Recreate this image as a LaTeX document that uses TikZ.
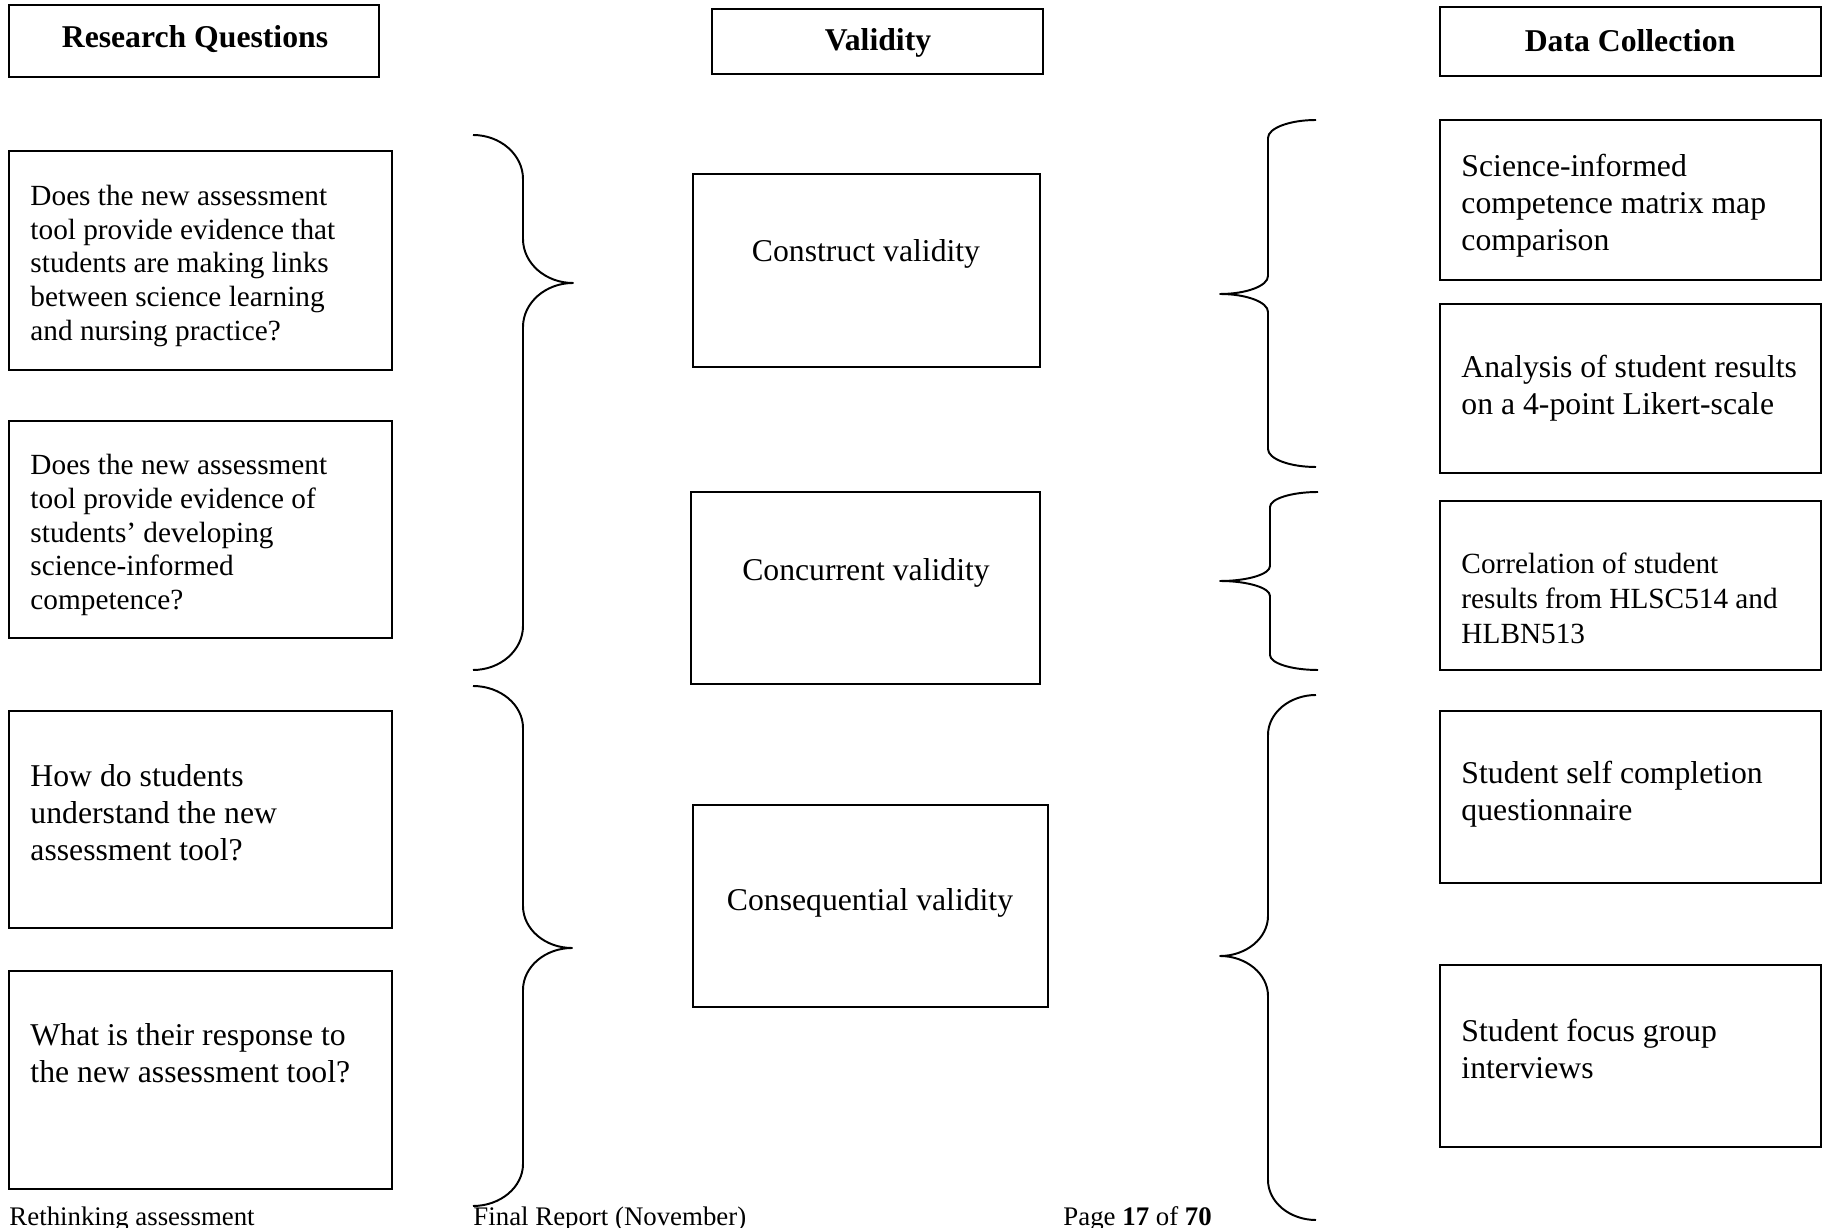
\documentclass[tikz,border=0pt]{standalone}
\usepackage{fontspec}
\setmainfont{Liberation Serif}
\usepackage{tikz}
\usetikzlibrary{fit}
\usetikzlibrary{positioning}

\begin{document}
\begin{tikzpicture}[x={(0.41pt,0pt)},y={(0pt,-0.41pt)},
		box/.style={draw,line width=0.8pt,inner sep=0pt},
		head/.style={inner sep=0pt,font=\fontsize{13}{15}\selectfont\bfseries},
		qtext/.style={anchor=west,align=left,inner sep=0pt,font=\fontsize{12}{13.9}\selectfont},
		qbig/.style={qtext,font=\fontsize{13}{15.2}\selectfont},
		vtext/.style={inner sep=0pt,font=\fontsize{13}{15}\selectfont},
		foot/.style={anchor=base west,inner sep=0pt,font=\fontsize{11}{13}\selectfont},
		brace/.style={line width=0.8pt,line join=round}]
		
		\useasboundingbox (0,0) rectangle (1822,1228);
		
		% column headings
		\node[box, fit={(9,5) (379,77)}] (rqhead) {};
		\node[head] (rqtitle) at (195,39) {Research Questions};
		\node[box, fit={(712,9) (1043,74)}] (valhead) {};
		\node[head] (valtitle) at (878,43) {Validity};
		\node[box, fit={(1440,7) (1821,76)}] (dchead) {};
		\node[head] (dctitle) at (1630,41) {Data Collection};
		
		% research questions
		\node[box, fit={(9,151) (392,370)}] (q1) {};
		\node[qtext] (q1text) at (30,266) {Does the new assessment\\tool provide evidence that\\students are making links\\between science learning\\and nursing practice?};
		\node[box, fit={(9,421) (392,638)}] (q2) {};
		\node[qtext] (q2text) at (30,535) {Does the new assessment\\tool provide evidence of\\students' developing\\science-informed\\competence?};
		\node[box, fit={(9,711) (392,928)}] (q3) {};
		\node[qbig] (q3text) at (30,813) {How do students\\understand the new\\assessment tool?};
		\node[box, fit={(9,971) (392,1189)}] (q4) {};
		\node[qbig] (q4text) at (30,1053) {What is their response to\\the new assessment tool?};
		
		% validity
		\node[box, fit={(693,174) (1040,367)}] (construct) {};
		\node[vtext] (constructtext) at (866,254) {Construct validity};
		\node[box, fit={(691,492) (1040,684)}] (concurrent) {};
		\node[vtext] (concurrenttext) at (866,573) {Concurrent validity};
		\node[box, fit={(693,805) (1048,1007)}] (consequential) {};
		\node[vtext] (consequentialtext) at (870,903) {Consequential validity};
		
		% data collection
		\node[box, fit={(1440,120) (1821,280)}] (d1) {};
		\node[qbig] (d1text) at (1461,206) {Science-informed\\competence matrix map\\comparison};
		\node[box, fit={(1440,304) (1821,473)}] (d2) {};
		\node[qbig] (d2text) at (1461,388) {Analysis of student results\\on a 4-point Likert-scale};
		\node[box, fit={(1440,501) (1821,670)}] (d3) {};
		\node[qtext,font=\fontsize{12}{14.3}\selectfont] (d3text) at (1461,598) {Correlation of student\\results from HLSC514 and\\HLBN513};
		\node[box, fit={(1440,711) (1821,883)}] (d4) {};
		\node[qbig] (d4text) at (1461,794) {Student self completion\\questionnaire};
		\node[box, fit={(1440,965) (1821,1147)}] (d5) {};
		\node[qbig] (d5text) at (1461,1049) {Student focus group\\interviews};
		
		% braces: end x / stem x / tip x / top y / tip y / bottom y / corner
		\foreach \xe/\xv/\xt/\ya/\ym/\yb/\ry in {473/523/573/135/283/670/44,
				473/523/572/686/948/1206/42,
				1316/1268/1220/120/294/467/18,
				1318/1270/1220/492/581/670/15,
				1316/1268/1220/695/956/1220/40}
		\draw[brace] (\xe,\ya)
			.. controls ({\xv+0.45*(\xe-\xv)},\ya) and (\xv,{\ya+0.45*\ry}) .. (\xv,{\ya+\ry})
			-- (\xv,{\ym-\ry})
			.. controls (\xv,{\ym-0.45*\ry}) and ({\xv+0.45*(\xt-\xv)},\ym) .. (\xt,\ym)
			.. controls ({\xv+0.45*(\xt-\xv)},\ym) and (\xv,{\ym+0.45*\ry}) .. (\xv,{\ym+\ry})
			-- (\xv,{\yb-\ry})
			.. controls (\xv,{\yb-0.45*\ry}) and ({\xv+0.45*(\xe-\xv)},\yb) .. (\xe,\yb);
		
		% page footer
		\node[foot] (footleft) at (9,1225) {Rethinking assessment};
		\node[foot] (footmid) at (473,1225) {Final Report (November)};
		\node[foot] (footright) at (1063,1225) {Page \textbf{17} of \textbf{70}};
		\end{tikzpicture}
\end{document}
